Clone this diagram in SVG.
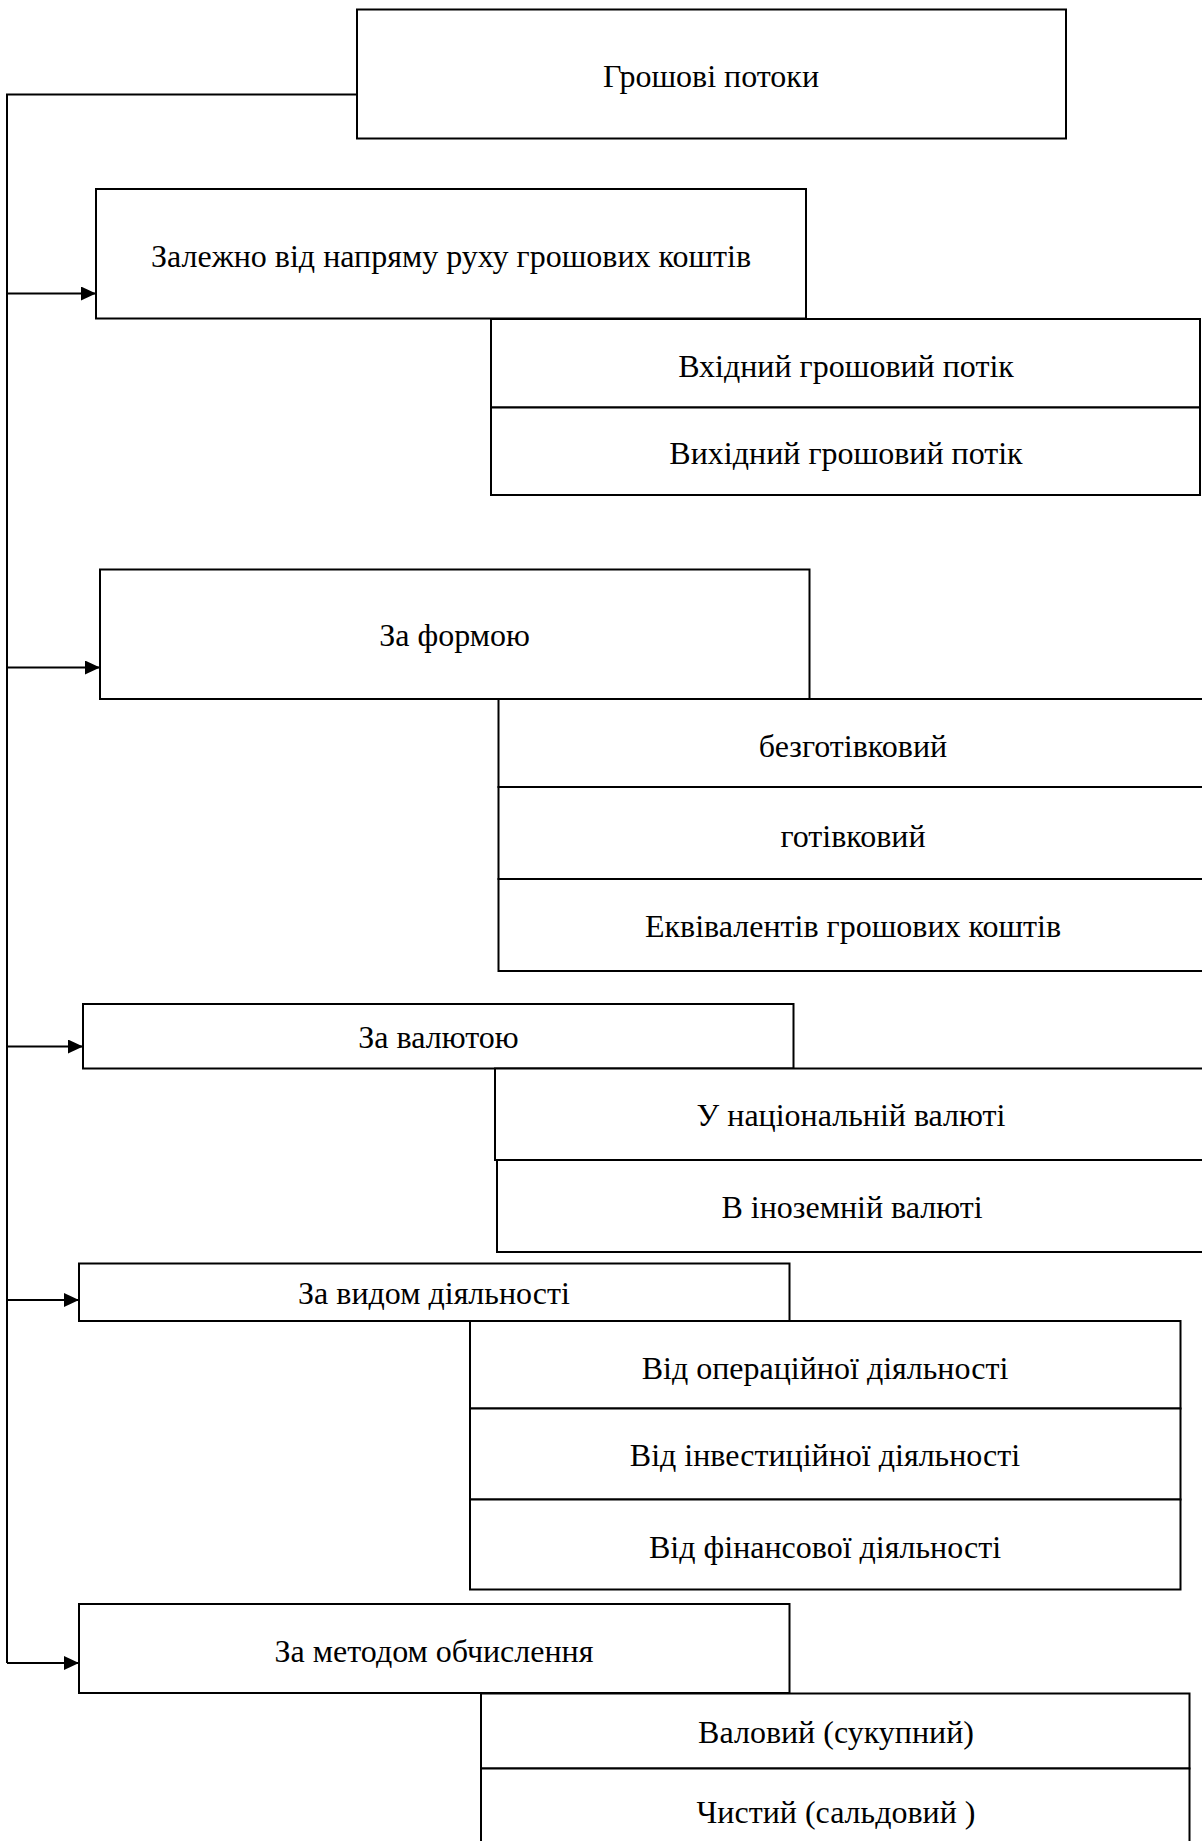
<svg xmlns="http://www.w3.org/2000/svg" width="1202" height="1841" viewBox="0 0 1202 1841">
<style>
.box{fill:#fff;stroke:#000;stroke-width:2}
.lbl{font-family:"Liberation Serif","Times New Roman",serif;font-size:32px;fill:#000;text-anchor:middle}
.conn{fill:none;stroke:#000;stroke-width:2}
</style>
<defs>
<marker id="arr" markerUnits="userSpaceOnUse" markerWidth="16" markerHeight="14" refX="15" refY="7" orient="auto">
<path d="M0,0 L15,7 L0,14 z" fill="#000"/>
</marker>
</defs>
<rect width="1202" height="1841" fill="#fff"/>
<g id="connectors">
<polyline class="conn" points="357,94.5 7,94.5 7,1663"/>
<line class="conn" x1="7" y1="293.5" x2="96" y2="293.5" marker-end="url(#arr)"/>
<line class="conn" x1="7" y1="667.5" x2="100" y2="667.5" marker-end="url(#arr)"/>
<line class="conn" x1="7" y1="1046.5" x2="83" y2="1046.5" marker-end="url(#arr)"/>
<line class="conn" x1="7" y1="1300" x2="79" y2="1300" marker-end="url(#arr)"/>
<line class="conn" x1="7" y1="1663" x2="79" y2="1663" marker-end="url(#arr)"/>
</g>
<g id="root">
<rect class="box" x="357" y="9.5" width="709" height="129"/>
<text class="lbl" x="711" y="87">Грошові потоки</text>
</g>
<g id="direction">
<rect class="box" x="96" y="189" width="710" height="129.5"/>
<text class="lbl" x="451" y="267">Залежно від напряму руху грошових коштів</text>
</g>
<g id="incoming">
<rect class="box" x="491" y="319" width="709" height="88.5"/>
<text class="lbl" x="846" y="377">Вхідний грошовий потік</text>
</g>
<g id="outgoing">
<rect class="box" x="491" y="407.5" width="709" height="87.5"/>
<text class="lbl" x="846" y="464">Вихідний грошовий потік</text>
</g>
<g id="form">
<rect class="box" x="100" y="569.5" width="709.5" height="129.5"/>
<text class="lbl" x="454.5" y="646">За формою</text>
</g>
<g id="noncash">
<rect class="box" x="498.5" y="699" width="720" height="88"/>
<text class="lbl" x="853" y="757">безготівковий</text>
</g>
<g id="cash">
<rect class="box" x="498.5" y="787" width="720" height="92"/>
<text class="lbl" x="853" y="847">готівковий</text>
</g>
<g id="equivalents">
<rect class="box" x="498.5" y="879" width="720" height="92"/>
<text class="lbl" x="853" y="937">Еквівалентів грошових коштів</text>
</g>
<g id="currency">
<rect class="box" x="83" y="1004" width="710.5" height="64.5"/>
<text class="lbl" x="438.5" y="1048">За валютою</text>
</g>
<g id="national">
<rect class="box" x="495" y="1068.5" width="720" height="91.5"/>
<text class="lbl" x="851" y="1126">У національній валюті</text>
</g>
<g id="foreign">
<rect class="box" x="497" y="1160" width="720" height="92"/>
<text class="lbl" x="852" y="1218">В іноземній валюті</text>
</g>
<g id="activity">
<rect class="box" x="79" y="1263.5" width="710.5" height="57.5"/>
<text class="lbl" x="434" y="1304">За видом діяльності</text>
</g>
<g id="operating">
<rect class="box" x="470" y="1321" width="710.5" height="87.5"/>
<text class="lbl" x="825" y="1379">Від операційної діяльності</text>
</g>
<g id="investing">
<rect class="box" x="470" y="1408.5" width="710.5" height="91"/>
<text class="lbl" x="825" y="1466">Від інвестиційної діяльності</text>
</g>
<g id="financing">
<rect class="box" x="470" y="1499.5" width="710.5" height="90"/>
<text class="lbl" x="825" y="1558">Від фінансової діяльності</text>
</g>
<g id="method">
<rect class="box" x="79" y="1604" width="710.5" height="89"/>
<text class="lbl" x="434" y="1662">За методом обчислення</text>
</g>
<g id="gross">
<rect class="box" x="481" y="1693.5" width="708.5" height="75"/>
<text class="lbl" x="836" y="1743">Валовий (сукупний)</text>
</g>
<g id="net">
<rect class="box" x="481" y="1768.5" width="708.5" height="90"/>
<text class="lbl" x="836" y="1823">Чистий (сальдовий )</text>
</g>
</svg>
